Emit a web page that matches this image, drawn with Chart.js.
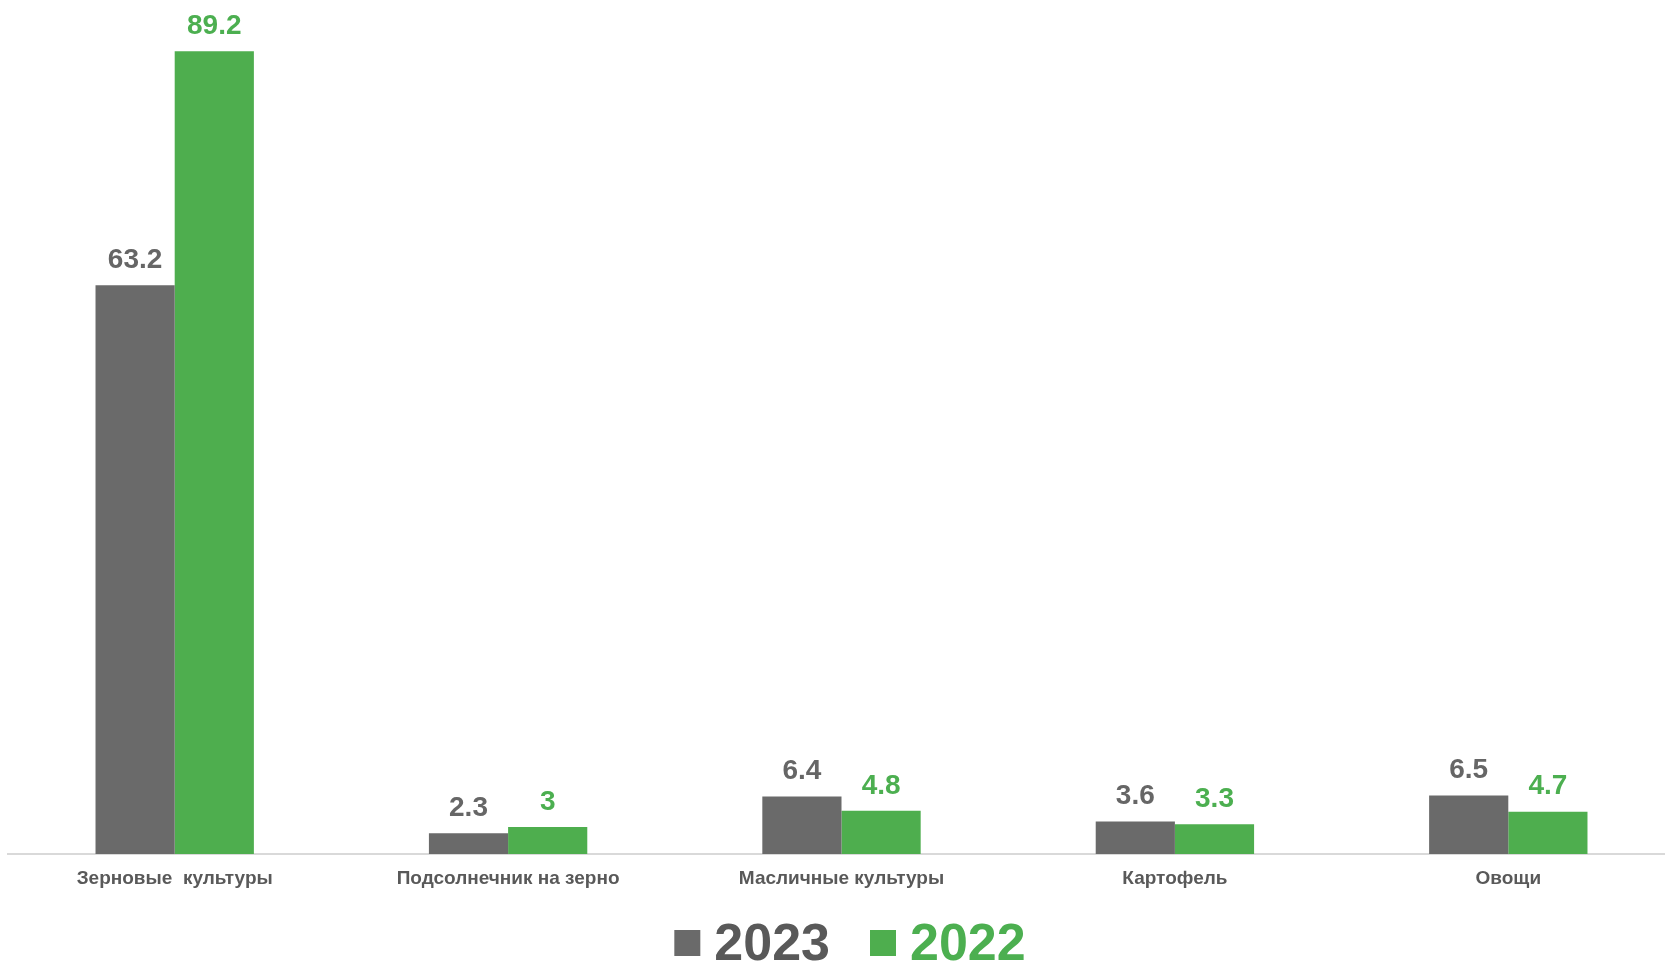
<!DOCTYPE html>
<html>
<head>
<meta charset="utf-8">
<script src="https://cdn.jsdelivr.net/npm/chart.js@4/dist/chart.umd.min.js"></script>
<style>
  html, body { margin: 0; padding: 0; background: #fff; overflow: hidden; }
  #wrap { width: 1675px; height: 963px; position: relative; }
</style>
</head>
<body>
<div id="wrap"><canvas id="myBarChart"></canvas></div>
<script>
  // Data
  var categories = ['Зерновые  культуры', 'Подсолнечник на зерно', 'Масличные культуры', 'Картофель', 'Овощи'];
  var values2023 = [63.2, 2.3, 6.4, 3.6, 6.5];
  var values2022 = [89.2, 3, 4.8, 3.3, 4.7];
  var seriesNames = ['2023', '2022'];

  var greyBar = '#6a6a6a';
  var greenBar = '#4eae4e';
  var labelColors = ['#666666', '#4caf50'];
  var legendColors = ['#595959', '#4caf50'];

  // value labels above the bars
  var valueLabels = {
      id: 'valueLabels',
      afterDatasetsDraw: function (chart) {
          var ctx = chart.ctx;
          ctx.save();
          ctx.font = 'bold 28px "Liberation Sans", Arial, sans-serif';
          ctx.textAlign = 'center';
          ctx.textBaseline = 'middle';
          chart.data.datasets.forEach(function (ds, i) {
              ctx.fillStyle = labelColors[i];
              chart.getDatasetMeta(i).data.forEach(function (bar, j) {
                  ctx.fillText(String(ds.data[j]), bar.x, bar.y - 25);
              });
          });
          ctx.restore();
      }
  };

  // legend at the bottom, coloured text per series
  var bottomLegend = {
      id: 'bottomLegend',
      afterDraw: function (chart) {
          var ctx = chart.ctx;
          var box = 26, gap = 14, spacing = 40, cy = 945, cx = 850;
          ctx.save();
          ctx.font = 'bold 52px "Liberation Sans", Arial, sans-serif';
          ctx.textBaseline = 'middle';
          ctx.textAlign = 'left';
          var items = chart.data.datasets.map(function (ds, i) {
              return { text: ds.label, color: ds.backgroundColor, textColor: legendColors[i], w: ctx.measureText(ds.label).width };
          });
          var total = 0;
          items.forEach(function (it, i) { total += box + gap + it.w + (i < items.length - 1 ? spacing : 0); });
          var x = cx - total / 2;
          items.forEach(function (it) {
              ctx.fillStyle = it.color;
              ctx.fillRect(x, cy - box / 2 - 2, box, box);
              ctx.fillStyle = it.textColor;
              ctx.fillText(it.text, x + box + gap, cy + 1);
              x += box + gap + it.w + spacing;
          });
          ctx.restore();
      }
  };

  var ctxBar = document.getElementById('myBarChart').getContext('2d');
  var barChart = new Chart(ctxBar, {
      type: 'bar',
      data: {
          labels: categories,
          datasets: [{
              label: seriesNames[0],
              data: values2023,
              backgroundColor: greyBar,
              barPercentage: 1,
              categoryPercentage: 0.475
          }, {
              label: seriesNames[1],
              data: values2022,
              backgroundColor: greenBar,
              barPercentage: 1,
              categoryPercentage: 0.475
          }]
      },
      options: {
          responsive: true,
          maintainAspectRatio: false,
          animation: false,
          layout: { padding: { left: 8, right: 0, top: 0, bottom: 59 } },
          plugins: {
              legend: { display: false },
              tooltip: { enabled: false }
          },
          scales: {
              x: {
                  grid: { display: false, drawTicks: false },
                  border: { display: true, color: '#d9d9d9', width: 2 },
                  ticks: {
                      padding: 13,
                      color: '#595959',
                      font: { family: '"Liberation Sans", Arial, sans-serif', size: 19, weight: 'bold' }
                  },
                  afterFit: function (scale) { scale.height = 50; }
              },
              y: {
                  display: false,
                  min: 0,
                  max: 94.9
              }
          }
      },
      plugins: [valueLabels, bottomLegend]
  });
</script>
</body>
</html>
